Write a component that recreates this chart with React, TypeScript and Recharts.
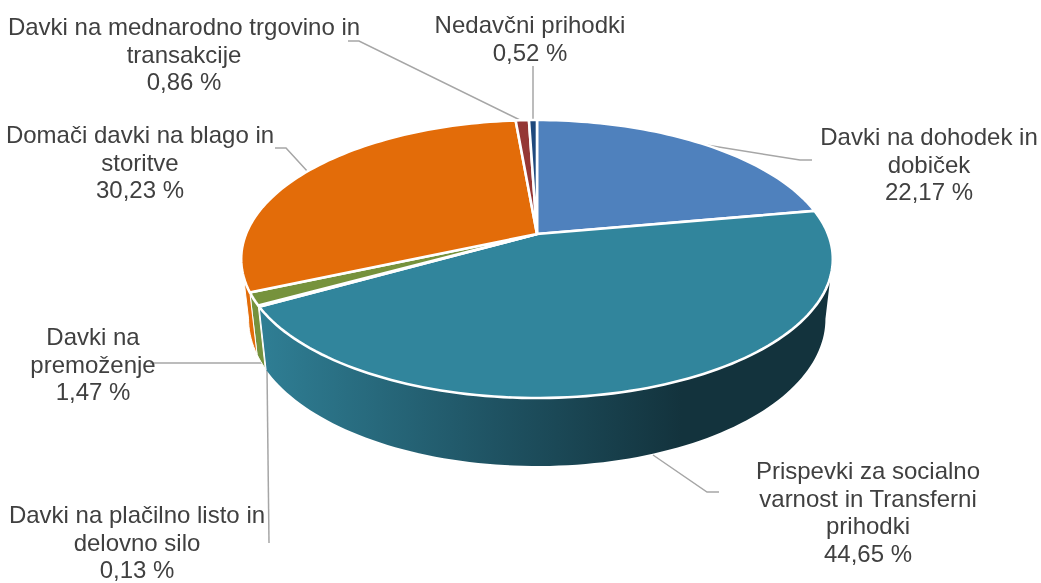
import { Pie, PieChart } from 'recharts'

const categories = [
  'Davki na dohodek in dobiček',
  'Prispevki za socialno varnost in Transferni prihodki',
  'Davki na plačilno listo in delovno silo',
  'Davki na premoženje',
  'Domači davki na blago in storitve',
  'Davki na mednarodno trgovino in transakcije',
  'Nedavčni prihodki',
]
const shares = [22.17, 44.65, 0.13, 1.47, 30.23, 0.86, 0.52]
const colors = ['#4f81bd', '#31859c', '#5f497a', '#76923c', '#e36c09', '#953735', '#1f497d']
const labelLines = [
  ['Davki na dohodek in', 'dobiček', '22,17 %'],
  ['Prispevki za socialno', 'varnost in Transferni', 'prihodki', '44,65 %'],
  ['Davki na plačilno listo in', 'delovno silo', '0,13 %'],
  ['Davki na', 'premoženje', '1,47 %'],
  ['Domači davki na blago in', 'storitve', '30,23 %'],
  ['Davki na mednarodno trgovino in', 'transakcije', '0,86 %'],
  ['Nedavčni prihodki', '0,52 %'],
]
// label centre x, first baseline y
const labelAnchors = [
  [929, 145],
  [868, 479],
  [137, 523],
  [93, 345],
  [140, 143],
  [184, 35],
  [530, 33],
]
// leader elbows, from the label towards the slice
const leaders = [
  [[812, 160], [800, 160], [700, 144]],
  [[719, 492], [707, 492], [653, 455]],
  [[269, 543], [267, 370]],
  [[150, 363], [262, 363]],
  [[275, 148], [286, 148], [308, 172]],
  [[348, 41], [359, 41], [522, 121]],
  [[533, 66], [533, 121]],
]

const data = categories.map((name, i) => ({ name, value: shares[i], fill: colors[i] }))

const WIDTH = 1041
const HEIGHT = 583
const CX = 537
const CY = 234

// perspective of the tilted disc
const K = 0.18
const A = 134.5
const B = 291
const DEPTH_X = 0.975
const TOP_FRONT = 0.3
const BOTTOM_FRONT = 0.18

const rad = (deg: number) => (deg * Math.PI) / 180

// theta is clockwise from 12 o'clock
function topPoint(theta: number) {
  const u = Math.sin(rad(theta))
  const v = -Math.cos(rad(theta))
  const w = 1 - K * v
  return [CX + (B * u) / w, CY + (A * v) / w]
}

function bottomPoint(theta: number) {
  const [x, y] = topPoint(theta)
  const v = -Math.cos(rad(theta))
  return [CX + (x - CX) * DEPTH_X, y + 58 + 10 * v]
}

function arc(from: number, to: number, fn: (t: number) => number[]) {
  const steps = Math.max(2, Math.ceil(Math.abs(to - from) / 1.5))
  const pts: number[][] = []
  for (let i = 0; i <= steps; i++) pts.push(fn(from + ((to - from) * i) / steps))
  return pts
}

const toPath = (pts: number[][]) => pts.map((p, i) => `${i ? 'L' : 'M'}${p[0].toFixed(2)},${p[1].toFixed(2)}`).join('') + 'Z'

function frontRange(a: number, b: number, front: number): [number, number] | null {
  const lo = (Math.acos(-front) * 180) / Math.PI
  const hi = 360 - lo
  const s = Math.max(a, lo)
  const e = Math.min(b, hi)
  return s < e ? [s, e] : null
}

function Slice(props: any) {
  const { startAngle, endAngle, fill, index } = props
  // recharts angles run counter-clockwise from 3 o'clock
  const a = 90 - startAngle
  const b = 90 - endAngle
  const topRange = frontRange(a, b, TOP_FRONT)
  const bottomRange = frontRange(a, b, BOTTOM_FRONT)
  const wallFill = index === 1 ? 'url(#tealWall)' : fill
  let wall = null
  if (topRange && bottomRange) {
    const pts = [...arc(topRange[0], topRange[1], topPoint), ...arc(bottomRange[1], bottomRange[0], bottomPoint)]
    wall = <path d={toPath(pts)} fill={wallFill} stroke="#fff" strokeWidth={index === 1 ? 0 : 1} />
  }
  const top = [[CX, CY], ...arc(a, b, topPoint)]
  return (
    <g>
      {index === 1 && (
        <defs>
          <linearGradient id="tealWall" gradientUnits="userSpaceOnUse" x1={CX - 275} y1="0" x2={CX + 145} y2="0">
            <stop offset="0%" stopColor="#2f7e94" />
            <stop offset="55%" stopColor="#1f5363" />
            <stop offset="100%" stopColor="#13333d" />
          </linearGradient>
        </defs>
      )}
      {wall}
      <path d={toPath(top)} fill={fill} stroke="#fff" strokeWidth={2.6} strokeLinejoin="miter" />
    </g>
  )
}

function Labels() {
  return (
    <g>
      {leaders.map((pts, i) => (
        <polyline
          key={i}
          points={pts.map((p) => `${p[0]},${p[1]}`).join(' ')}
          fill="none"
          stroke="#a6a6a6"
          strokeWidth={1.5}
        />
      ))}
      {labelLines.map((lines, i) => (
        <text
          key={i}
          x={labelAnchors[i][0]}
          y={labelAnchors[i][1]}
          textAnchor="middle"
          fontFamily="'Liberation Sans', Arial, sans-serif"
          fontSize={24}
          fill="#404040"
        >
          {lines.map((line, j) => (
            <tspan key={j} x={labelAnchors[i][0]} dy={j ? 27.5 : 0}>
              {line}
            </tspan>
          ))}
        </text>
      ))}
    </g>
  )
}

export default function App() {
  return (
    <div style={{ position: 'fixed', left: 0, top: 0, width: WIDTH, height: HEIGHT }}>
      <PieChart width={WIDTH} height={HEIGHT} margin={{ top: 0, right: 0, bottom: 0, left: 0 }}>
        <Pie
          data={data}
          dataKey="value"
          nameKey="name"
          cx={CX}
          cy={CY}
          outerRadius={B}
          startAngle={90}
          endAngle={-270}
          stroke="#fff"
          shape={Slice}
          isAnimationActive={false}
        />
        <Labels />
      </PieChart>
    </div>
  )
}
